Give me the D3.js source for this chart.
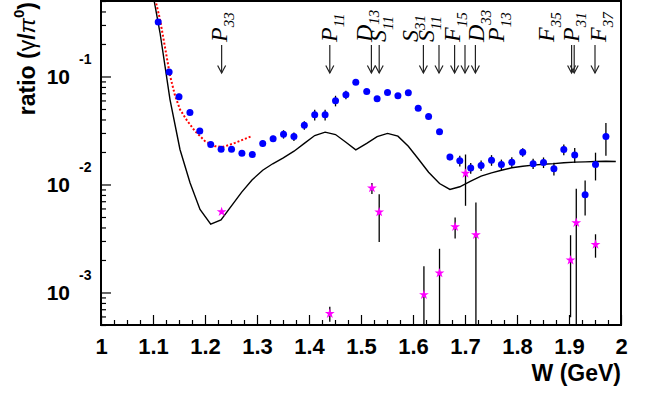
<!DOCTYPE html>
<html><head><meta charset="utf-8">
<script src="https://cdn.jsdelivr.net/npm/d3@7"></script>
<style>body{margin:0;background:#fff}svg{display:block}</style>
</head><body><svg id="c" width="646" height="394"></svg>
<script>
// ---- data ----
const blueW = [1.110,1.131,1.150,1.171,1.190,1.211,1.231,1.251,1.271,1.291,1.311,1.331,1.351,1.371,1.391,1.411,1.431,1.451,1.471,1.490,1.511,1.531,1.551,1.571,1.591,1.610,1.630,1.651,1.671,1.690,1.711,1.731,1.751,1.770,1.790,1.811,1.831,1.851,1.871,1.890,1.911,1.931,1.951,1.971];
const blueV = [0.319,0.110,0.0649,0.0464,0.0312,0.0234,0.0212,0.0212,0.0195,0.0190,0.0240,0.0265,0.0292,0.0278,0.0354,0.0442,0.0442,0.0596,0.0676,0.0886,0.0726,0.0621,0.0711,0.0662,0.0706,0.0509,0.0426,0.0308,0.0180,0.0166,0.0142,0.0150,0.0168,0.0153,0.0161,0.0199,0.0156,0.0160,0.0140,0.0211,0.0188,0.00803,0.0153,0.0278];
const blueE = [0.014,0.005,0.0043,0.002,0.0014,0.001,0.0009,0.0009,0.0009,0.0008,0.0016,0.0017,0.0026,0.0025,0.0032,0.005,0.005,0.0067,0.006,0.004,0.0032,0.0027,0.0031,0.0029,0.0031,0.0022,0.0019,0.0014,0.0012,0.0019,0.0016,0.0017,0.0019,0.0017,0.0018,0.0018,0.0017,0.0018,0.0019,0.0024,0.003,0.00287,0.0044,0.0093];

const starW = [1.232,1.440,1.521,1.535,1.621,1.651,1.681,1.701,1.721,1.903,1.914,1.951];
const starV = [0.00558,0.000636,0.00925,0.00554,0.000953,0.00151,0.00406,0.01265,0.00342,0.00199,0.00442,0.00278];
const starE = [0.0002,0.0001,0.0011,0.0026,0.0008,0.00103,0.0009,0.0063,0.0034,0.0014,0.0047,0.00068];

const modelW = [1.100,1.1135,1.1231,1.1327,1.1442,1.1519,1.1712,1.1904,1.211,1.2308,1.2706,1.2904,1.311,1.3302,1.3506,1.3712,1.391,1.411,1.431,1.451,1.471,1.490,1.511,1.531,1.551,1.571,1.591,1.610,1.630,1.651,1.671,1.690,1.711,1.731,1.751,1.770,1.790,1.811,1.831,1.851,1.871,1.890,1.911,1.931,1.951,1.971,1.990];
const modelV = [0.574,0.254,0.1245,0.0612,0.0323,0.0211,0.01037,0.00588,0.00430,0.00469,0.00849,0.01101,0.01356,0.01555,0.01767,0.02033,0.0240,0.0284,0.0305,0.0290,0.0246,0.0209,0.0240,0.0277,0.0297,0.0280,0.0226,0.0173,0.0130,0.0102,0.00899,0.00952,0.01074,0.01194,0.01283,0.01356,0.01428,0.01476,0.0151,0.0154,0.0156,0.0159,0.0161,0.0162,0.0163,0.0164,0.0163];

const redW = [1.1044,1.1135,1.1231,1.1327,1.1423,1.1519,1.1654,1.1808,1.2000,1.2192,1.2352,1.2577,1.2898];
const redV = [0.516,0.337,0.186,0.102,0.0667,0.0495,0.0391,0.0312,0.0252,0.0226,0.0223,0.0243,0.0280];

const resLetter = ["P","P","D","S","S","S","F","D","P","F","P","F"];
const resSub    = ["33","11","13","11","31","11","15","33","13","35","31","37"];
const resW      = [1.232,1.440,1.520,1.535,1.620,1.650,1.680,1.700,1.720,1.905,1.910,1.950];
const resLabelW = [1.2414,1.4529,1.5202,1.5472,1.6087,1.6395,1.6895,1.7356,1.7741,1.8702,1.9183,1.9702];

const xTicks = [1,1.1,1.2,1.3,1.4,1.5,1.6,1.7,1.8,1.9,2];
const xTickLabels = ["1","1.1","1.2","1.3","1.4","1.5","1.6","1.7","1.8","1.9","2"];
const yTicks = [1e-3,1e-2,1e-1];
const yTickExp = ["-3","-2","-1"];

// ---- chart ----
const svg = d3.select("#c");
svg.append("rect").attr("width",646).attr("height",394).attr("fill","#fff");
const L=101,R=621,T=1,B=325;
const x = d3.scaleLinear().domain([1,2]).range([L,R]);
const y = d3.scaleLog().domain([5e-4,0.5]).range([B,T]);
const sans = "'Liberation Sans', Arial, Helvetica, sans-serif";
const serif = "'Liberation Serif', 'Times New Roman', serif";

svg.append("defs").append("clipPath").attr("id","clip")
  .append("rect").attr("x",L).attr("y",T).attr("width",R-L).attr("height",B-T);
const g = svg.append("g").attr("clip-path","url(#clip)");

// model curve
const line = d3.line().x(d=>x(d[0])).y(d=>y(d[1]));
g.append("path").datum(modelW.map((w,i)=>[w,modelV[i]]))
  .attr("d",line).attr("fill","none").attr("stroke","#000").attr("stroke-width",1.4);
// red dotted
g.append("path").datum(redW.map((w,i)=>[w,redV[i]]))
  .attr("d",line).attr("fill","none").attr("stroke","#ff0000").attr("stroke-width",2)
  .attr("stroke-dasharray","2,2");

// blue points error bars
const blue = blueW.map((w,i)=>({w,v:blueV[i],e:blueE[i]}));
g.selectAll(".be").data(blue).enter().append("line")
  .attr("x1",d=>x(d.w)).attr("x2",d=>x(d.w))
  .attr("y1",d=>y(d.v+d.e)).attr("y2",d=>y(Math.max(d.v-d.e,1e-7)))
  .attr("stroke","#000").attr("stroke-width",1.3);
g.selectAll(".bd").data(blue).enter().append("circle")
  .attr("cx",d=>x(d.w)).attr("cy",d=>y(d.v)).attr("r",3.5).attr("fill","#0000ff");

// stars
const stars = starW.map((w,i)=>({w,v:starV[i],e:starE[i]}));
g.selectAll(".se").data(stars).enter().append("line")
  .attr("x1",d=>x(d.w)).attr("x2",d=>x(d.w))
  .attr("y1",d=>y(d.v+d.e)).attr("y2",d=>y(Math.max(d.v-d.e,1e-7)))
  .attr("stroke","#000").attr("stroke-width",1.3);
const starSym = d3.symbol().type(d3.symbolStar).size(30);
g.selectAll(".sd").data(stars).enter().append("path")
  .attr("d",starSym).attr("transform",d=>`translate(${x(d.w)},${y(d.v)})`)
  .attr("fill","#ff00ff");

// resonance arrows & labels
const res = resW.map((w,i)=>({w,lw:resLabelW[i],l:resLetter[i],s:resSub[i]}));
const ag = svg.append("g").attr("stroke","#222").attr("stroke-width",1.2).attr("fill","none");
res.forEach(d=>{
  const px=x(d.w);
  ag.append("line").attr("x1",px).attr("x2",px).attr("y1",45).attr("y2",73);
  ag.append("path").attr("d",`M${px-4},65.5L${px},73L${px+4},65.5`);
  const t = svg.append("text").attr("transform",`translate(${x(d.lw)},42) rotate(-90)`)
    .attr("font-family",serif).attr("font-style","italic").attr("font-size",24).attr("fill","#000");
  t.append("tspan").text(d.l);
  t.append("tspan").attr("dy",7).attr("font-size",15).text(d.s);
});

// axes
const ax = svg.append("g").attr("transform",`translate(0,${B})`)
  .call(d3.axisBottom(x).tickValues(xTicks).tickSizeInner(-10).tickSizeOuter(0)
    .tickFormat((d,i)=>xTickLabels[i]));
ax.select(".domain").remove();
ax.selectAll(".tick line").attr("stroke","#000").attr("stroke-width",1.2);
ax.selectAll(".tick text").attr("y",29).attr("dy",0).attr("font-family",sans)
  .attr("font-weight","bold").attr("font-size",22).attr("fill","#000");
const xMinor = d3.range(1,2.0001,0.025).filter(v=>Math.abs(v*10-Math.round(v*10))>1e-6);
const axm = svg.append("g").attr("transform",`translate(0,${B})`)
  .call(d3.axisBottom(x).tickValues(xMinor).tickSizeInner(-5).tickSizeOuter(0).tickFormat(""));
axm.select(".domain").remove();
axm.selectAll(".tick line").attr("stroke","#000").attr("stroke-width",1.2);

const ay = svg.append("g").attr("transform",`translate(${L},0)`)
  .call(d3.axisLeft(y).tickValues(yTicks).tickSizeInner(-10).tickSizeOuter(0).tickFormat(""));
ay.select(".domain").remove();
ay.selectAll(".tick line").attr("stroke","#000").attr("stroke-width",1.2);
const yMinor = [];
[1e-4,1e-3,1e-2,1e-1].forEach(b=>{for(let k=2;k<=9;k++){const v=b*k; if(v>=5e-4&&v<=0.5) yMinor.push(v);}});
const aym = svg.append("g").attr("transform",`translate(${L},0)`)
  .call(d3.axisLeft(y).tickValues(yMinor).tickSizeInner(-5).tickSizeOuter(0).tickFormat(""));
aym.select(".domain").remove();
aym.selectAll(".tick line").attr("stroke","#000").attr("stroke-width",1.2);

// y tick labels: 10^k
yTicks.forEach((v,i)=>{
  svg.append("text").attr("x",70).attr("y",y(v)+8).attr("text-anchor","end")
    .attr("font-family",sans).attr("font-weight","bold").attr("font-size",21).text("10");
  svg.append("text").attr("x",79).attr("y",y(v)-12).attr("text-anchor","start")
    .attr("font-family",sans).attr("font-weight","bold").attr("font-size",14).text(yTickExp[i]);
});

// frame
svg.append("rect").attr("x",L).attr("y",T).attr("width",R-L).attr("height",B-T)
  .attr("fill","none").attr("stroke","#000").attr("stroke-width",2);

// axis titles
svg.append("text").attr("x",621).attr("y",381).attr("text-anchor","end")
  .attr("font-family",sans).attr("font-weight","bold").attr("font-size",23).text("W (GeV)");
const yt = svg.append("text").attr("transform","translate(35,2) rotate(-90)").attr("text-anchor","end")
  .attr("font-family",sans).attr("font-weight","bold").attr("font-size",23);
yt.append("tspan").text("ratio (");
yt.append("tspan").attr("font-weight","normal").text("\u03B3");
yt.append("tspan").text("/");
yt.append("tspan").attr("font-weight","normal").attr("font-style","italic").text("\u03C0");
yt.append("tspan").attr("dy",-11).attr("font-size",15).text("0");
yt.append("tspan").attr("dy",11).text(")");
</script></body></html>
